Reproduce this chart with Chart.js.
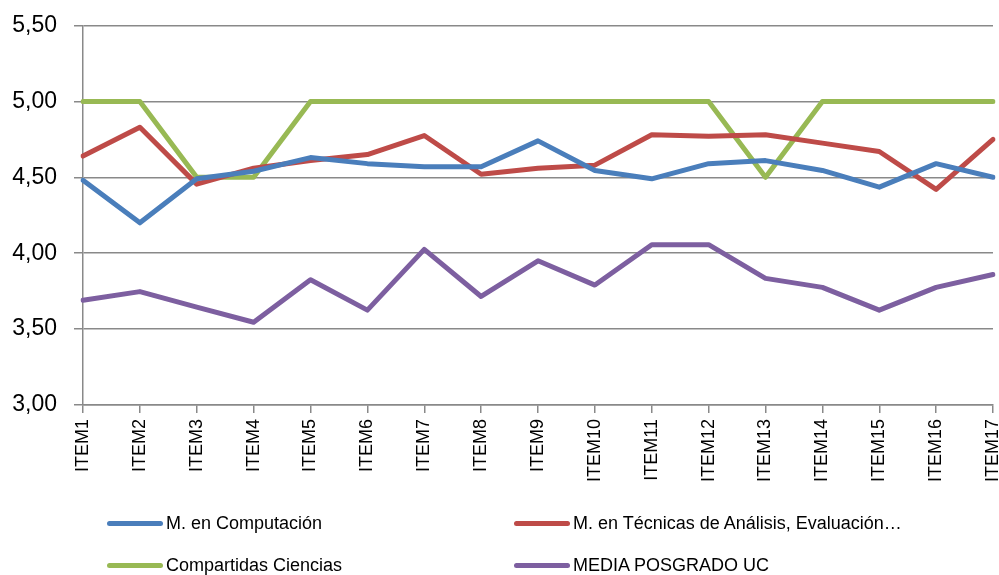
<!DOCTYPE html>
<html>
<head>
<meta charset="utf-8">
<script src="https://cdn.jsdelivr.net/npm/chart.js@4/dist/chart.umd.min.js"></script>
<style>
  html, body { margin: 0; padding: 0; background: #fff; }
  #wrap { position: relative; width: 999px; height: 575px; overflow: hidden; }
  #c { position: absolute; left: 0; top: 0; }
  .leg { position: absolute; font-family: "Liberation Sans", Arial, sans-serif; font-size: 18px; color: #000; white-space: nowrap; line-height: 20px; }
  .leg .sw { position: absolute; left: 0; top: 8px; width: 56px; height: 5px; border-radius: 3px; }
  .leg .tx { position: absolute; left: 59px; top: 0; }
</style>
</head>
<body>
<div id="wrap">
  <canvas id="c" width="999" height="575"></canvas>
</div>
<script>
const categories = ["ITEM1","ITEM2","ITEM3","ITEM4","ITEM5","ITEM6","ITEM7","ITEM8","ITEM9","ITEM10","ITEM11","ITEM12","ITEM13","ITEM14","ITEM15","ITEM16","ITEM17"];
const seriesNames = ["M. en Computación", "M. en Técnicas de Análisis, Evaluación…", "Compartidas Ciencias", "MEDIA POSGRADO UC"];
const computacion   = [4.48, 4.20, 4.49, 4.54, 4.63, 4.59, 4.57, 4.57, 4.74, 4.545, 4.49, 4.59, 4.61, 4.545, 4.435, 4.59, 4.50];
const tecnicas      = [4.64, 4.83, 4.455, 4.56, 4.61, 4.65, 4.775, 4.52, 4.56, 4.58, 4.78, 4.77, 4.78, 4.725, 4.67, 4.42, 4.75];
const compartidas   = [5.00, 5.00, 4.50, 4.50, 5.00, 5.00, 5.00, 5.00, 5.00, 5.00, 5.00, 5.00, 4.50, 5.00, 5.00, 5.00, 5.00];
const mediaPosgrado = [3.69, 3.747, 3.645, 3.545, 3.825, 3.625, 4.025, 3.715, 3.95, 3.79, 4.056, 4.056, 3.834, 3.775, 3.625, 3.775, 3.86];
const yMin = 3.0, yMax = 5.5, yStep = 0.5;

const colors = ["#4a7ebb", "#be4b48", "#98b954", "#7d5fa0"];
const seriesData = [computacion, tecnicas, compartidas, mediaPosgrado];

const gridColor = "#898989";

const datasets = seriesData.map((d, i) => ({
  label: seriesNames[i],
  data: d,
  borderColor: colors[i],
  backgroundColor: colors[i],
  borderWidth: 5,
  pointRadius: 0,
  pointHoverRadius: 0,
  tension: 0,
  fill: false,
  borderJoinStyle: "round",
  borderCapStyle: "round"
}));

new Chart(document.getElementById("c"), {
  type: "line",
  data: { labels: categories, datasets: datasets },
  options: {
    responsive: false,
    animation: false,
    devicePixelRatio: 1,
    layout: { padding: { top: 25.5, right: 6, left: 0, bottom: 0 } },
    plugins: { legend: { display: false }, tooltip: { enabled: false } },
    scales: {
      x: {
        offset: false,
        grid: { display: true, drawOnChartArea: false, drawTicks: true, tickLength: 8, color: gridColor, lineWidth: 1.5 },
        border: { display: true, color: gridColor, width: 1.5 },
        ticks: {
          autoSkip: false, maxRotation: 90, minRotation: 90, padding: 6,
          color: "#000", font: { family: "Liberation Sans", size: 18 }
        },
        afterFit: (s) => { s.height = 170; s.paddingLeft = 0; s.paddingRight = 0; }
      },
      y: {
        min: yMin, max: yMax,
        grid: { display: true, drawOnChartArea: true, drawTicks: true, tickLength: 9, color: gridColor, lineWidth: 1.5 },
        border: { display: true, color: gridColor, width: 1.5 },
        ticks: {
          stepSize: yStep, padding: 17, color: "#000",
          font: { family: "Liberation Sans", size: 23 },
          callback: (v) => Number(v).toFixed(2).replace(".", ",")
        },
        afterFit: (s) => { s.width = 83; s.paddingTop = 0; s.paddingBottom = 0; }
      }
    }
  }
});

// Legend (HTML text) built from the series names and colours
const legendPos = [[107, 513], [514, 513], [107, 555], [514, 555]];
const wrap = document.getElementById("wrap");
seriesNames.forEach((name, i) => {
  const el = document.createElement("div");
  el.className = "leg";
  el.style.left = legendPos[i][0] + "px";
  el.style.top = legendPos[i][1] + "px";
  const sw = document.createElement("span");
  sw.className = "sw";
  sw.style.background = colors[i];
  const tx = document.createElement("span");
  tx.className = "tx";
  tx.textContent = name;
  el.appendChild(sw); el.appendChild(tx);
  wrap.appendChild(el);
});
</script>
</body>
</html>
